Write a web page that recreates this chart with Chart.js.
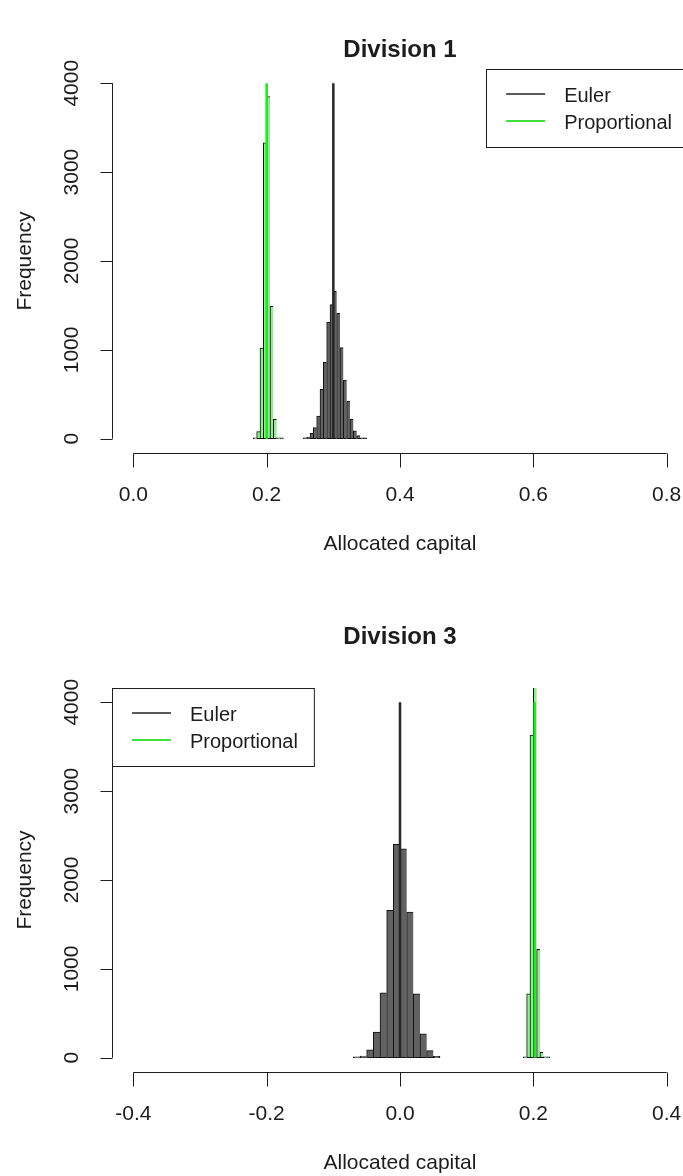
<!DOCTYPE html>
<html>
<head>
<meta charset="utf-8">
<script src="https://cdn.jsdelivr.net/npm/chart.js@4/dist/chart.umd.min.js"></script>
<style>
  html, body { margin: 0; padding: 0; background: #fff; overflow: hidden; width: 683px; height: 1176px; }
  canvas { position: absolute; left: 0; }
  #div1 { top: 0; }
  #div3 { top: 588px; }
</style>
</head>
<body>
<canvas id="div1" width="700" height="588"></canvas>
<canvas id="div3" width="700" height="588"></canvas>
<script>
// Division 1: histogram bin centres and counts
const div1EulerX = [0.2575, 0.2625, 0.2675, 0.2725, 0.2775, 0.2825, 0.2875, 0.2925, 0.2975, 0.3025, 0.3075, 0.3125, 0.3175, 0.3225, 0.3275, 0.3325, 0.3375, 0.3425, 0.3475];
const div1EulerFreq = [4, 20, 60, 125, 255, 555, 860, 1310, 1510, 1660, 1410, 1025, 660, 420, 220, 90, 35, 12, 3];
const div1PropX = [0.1825, 0.1875, 0.1925, 0.1975, 0.2025, 0.2075, 0.2125, 0.2175, 0.2225];
const div1PropFreq = [5, 80, 1020, 3330, 3850, 1490, 220, 12, 2];
const div1Lines = [0.3, 0.2]; // Euler, Proportional

// Division 3
const div3EulerX = [-0.065, -0.055, -0.045, -0.035, -0.025, -0.015, -0.005, 0.005, 0.015, 0.025, 0.035, 0.045, 0.055];
const div3EulerFreq = [3, 20, 90, 290, 730, 1660, 2400, 2350, 1640, 720, 270, 80, 15];
const div3PropX = [0.1875, 0.1925, 0.1975, 0.2025, 0.2075, 0.2125, 0.2175, 0.2225];
const div3PropFreq = [5, 720, 3630, 4400, 1220, 60, 5, 1];
const div3Lines = [0, 0.202];

const seriesNames = ['Euler', 'Proportional'];
const lineTop = 4000;
const yTicks = [0, 1000, 2000, 3000, 4000];
const div1XTicks = [0, 0.2, 0.4, 0.6, 0.8];
const div1XLabels = ['0.0', '0.2', '0.4', '0.6', '0.8'];
const div3XTicks = [-0.4, -0.2, 0, 0.2, 0.4];
const div3XLabels = ['-0.4', '-0.2', '0.0', '0.2', '0.4'];

const FONT = '"Liberation Sans", Arial, sans-serif';
const INK = '#1c1c1c';

// R style axes, titles and legend drawn on top of the chart
function rStyle(p) {
  return {
    id: 'rStyle',
    afterDraw(chart) {
      const { ctx, chartArea: a, scales } = chart;
      const x = scales.xe, y = scales.y;
      ctx.save();
      ctx.strokeStyle = INK;
      ctx.fillStyle = INK;
      ctx.lineWidth = 1;

      // x axis
      const yb = Math.round(a.bottom) + 0.5;
      ctx.beginPath();
      ctx.moveTo(x.getPixelForValue(p.xTicks[0]), yb);
      ctx.lineTo(x.getPixelForValue(p.xTicks[p.xTicks.length - 1]), yb);
      p.xTicks.forEach(v => {
        const px = Math.round(x.getPixelForValue(v)) + 0.5;
        ctx.moveTo(px, yb);
        ctx.lineTo(px, yb + 14);
      });
      // y axis
      const xl = Math.round(a.left) + 0.5;
      ctx.moveTo(xl, y.getPixelForValue(yTicks[0]));
      ctx.lineTo(xl, y.getPixelForValue(yTicks[yTicks.length - 1]));
      yTicks.forEach(v => {
        const py = Math.round(y.getPixelForValue(v)) + 0.5;
        ctx.moveTo(xl, py);
        ctx.lineTo(xl - 12, py);
      });
      ctx.stroke();

      ctx.font = '21px ' + FONT;
      ctx.textAlign = 'center';
      ctx.textBaseline = 'middle';
      p.xTicks.forEach((v, i) => ctx.fillText(p.xLabels[i], x.getPixelForValue(v), a.bottom + 42));
      ctx.fillText('Allocated capital', (a.left + a.right) / 2, a.bottom + 91);
      yTicks.forEach(v => {
        ctx.save();
        ctx.translate(a.left - 40, y.getPixelForValue(v));
        ctx.rotate(-Math.PI / 2);
        ctx.fillText(String(v), 0, 0);
        ctx.restore();
      });
      ctx.save();
      ctx.translate(a.left - 87, (a.top + a.bottom) / 2);
      ctx.rotate(-Math.PI / 2);
      ctx.fillText('Frequency', 0, 0);
      ctx.restore();

      ctx.font = 'bold 24px ' + FONT;
      ctx.fillText(p.title, (a.left + a.right) / 2, p.titleY);

      // legend box
      ctx.font = '20px ' + FONT;
      const w = 78 + ctx.measureText(seriesNames[1]).width + 16;
      const h = 78;
      const bx = p.legend === 'topright' ? a.right - w : a.left;
      const by = a.top;
      ctx.fillStyle = '#fff';
      ctx.fillRect(bx, by, w, h);
      ctx.strokeRect(Math.round(bx) + 0.5, Math.round(by) + 0.5, w, h);
      const cols = ['#5a5a5a', '#3fe03f'];
      seriesNames.forEach((name, i) => {
        const ly = by + 25 + i * 27;
        ctx.strokeStyle = cols[i];
        ctx.lineWidth = 2;
        ctx.beginPath();
        ctx.moveTo(bx + 20, ly);
        ctx.lineTo(bx + 59, ly);
        ctx.stroke();
        ctx.fillStyle = INK;
        ctx.textAlign = 'left';
        ctx.fillText(name, bx + 78, ly + 2);
      });
      ctx.restore();
    }
  };
}

function histBars(xs, freqs, label, fill, xAxisID, order) {
  return {
    label: label,
    xAxisID: xAxisID,
    data: xs.map((v, i) => ({ x: v, y: freqs[i] })),
    binWidth: xs[1] - xs[0],
    backgroundColor: fill,
    borderColor: '#111',
    borderWidth: ctx => ({ top: 1, bottom: 1, left: 1, right: ctx.dataIndex === xs.length - 1 ? 1 : 0 }),
    borderSkipped: false,
    grouped: false,
    barPercentage: 1,
    categoryPercentage: 1,
    minBarLength: 1,
    clip: 0,
    order: order
  };
}

function vLine(xv, label, color) {
  return {
    type: 'line',
    label: label,
    xAxisID: 'xe',
    data: [{ x: xv, y: 0 }, { x: xv, y: lineTop }],
    borderColor: color,
    borderWidth: 2.5,
    pointRadius: 0,
    fill: false,
    order: 0
  };
}

function drawPanel(id, p) {
  const xPad = (p.xTicks[p.xTicks.length - 1] - p.xTicks[0]) * 0.04;
  const yMax = yTicks[yTicks.length - 1];
  const xScale = {
    type: 'linear', display: false, offset: false,
    min: p.xTicks[0] - xPad, max: p.xTicks[p.xTicks.length - 1] + xPad
  };
  const chart = new Chart(document.getElementById(id), {
    type: 'bar',
    data: {
      datasets: [
        histBars(p.eulerX, p.eulerFreq, seriesNames[0], '#626262', 'xe', 2),
        histBars(p.propX, p.propFreq, seriesNames[1], '#90ee90', 'xp', 1),
        vLine(p.lines[0], seriesNames[0], '#262626'),
        vLine(p.lines[1], seriesNames[1], '#22e622')
      ]
    },
    options: {
      responsive: false,
      animation: false,
      devicePixelRatio: 1,
      events: [],
      layout: { padding: p.padding },
      scales: {
        xe: Object.assign({ axis: 'x' }, xScale),
        xp: Object.assign({ axis: 'x' }, xScale),
        y: { type: 'linear', display: false, min: -yMax * 0.04, max: yMax * 1.04 }
      },
      plugins: { legend: { display: false }, tooltip: { enabled: false }, title: { display: false } }
    },
    plugins: [rStyle(p)]
  });
  // make each bar exactly one bin wide, measured through the x scale
  const xs = chart.scales.xe;
  chart.data.datasets.forEach(ds => {
    if (ds.binWidth) ds.barThickness = Math.abs(xs.getPixelForValue(ds.binWidth) - xs.getPixelForValue(0));
  });
  chart.update();
}

drawPanel('div1', {
  title: 'Division 1', titleY: 50, legend: 'topright',
  eulerX: div1EulerX, eulerFreq: div1EulerFreq, propX: div1PropX, propFreq: div1PropFreq,
  lines: div1Lines, xTicks: div1XTicks, xLabels: div1XLabels,
  padding: { left: 112, right: 12, top: 69, bottom: 135 }
});

drawPanel('div3', {
  title: 'Division 3', titleY: 49, legend: 'topleft',
  eulerX: div3EulerX, eulerFreq: div3EulerFreq, propX: div3PropX, propFreq: div3PropFreq,
  lines: div3Lines, xTicks: div3XTicks, xLabels: div3XLabels,
  padding: { left: 112, right: 12, top: 100, bottom: 104 }
});
</script>
</body>
</html>
